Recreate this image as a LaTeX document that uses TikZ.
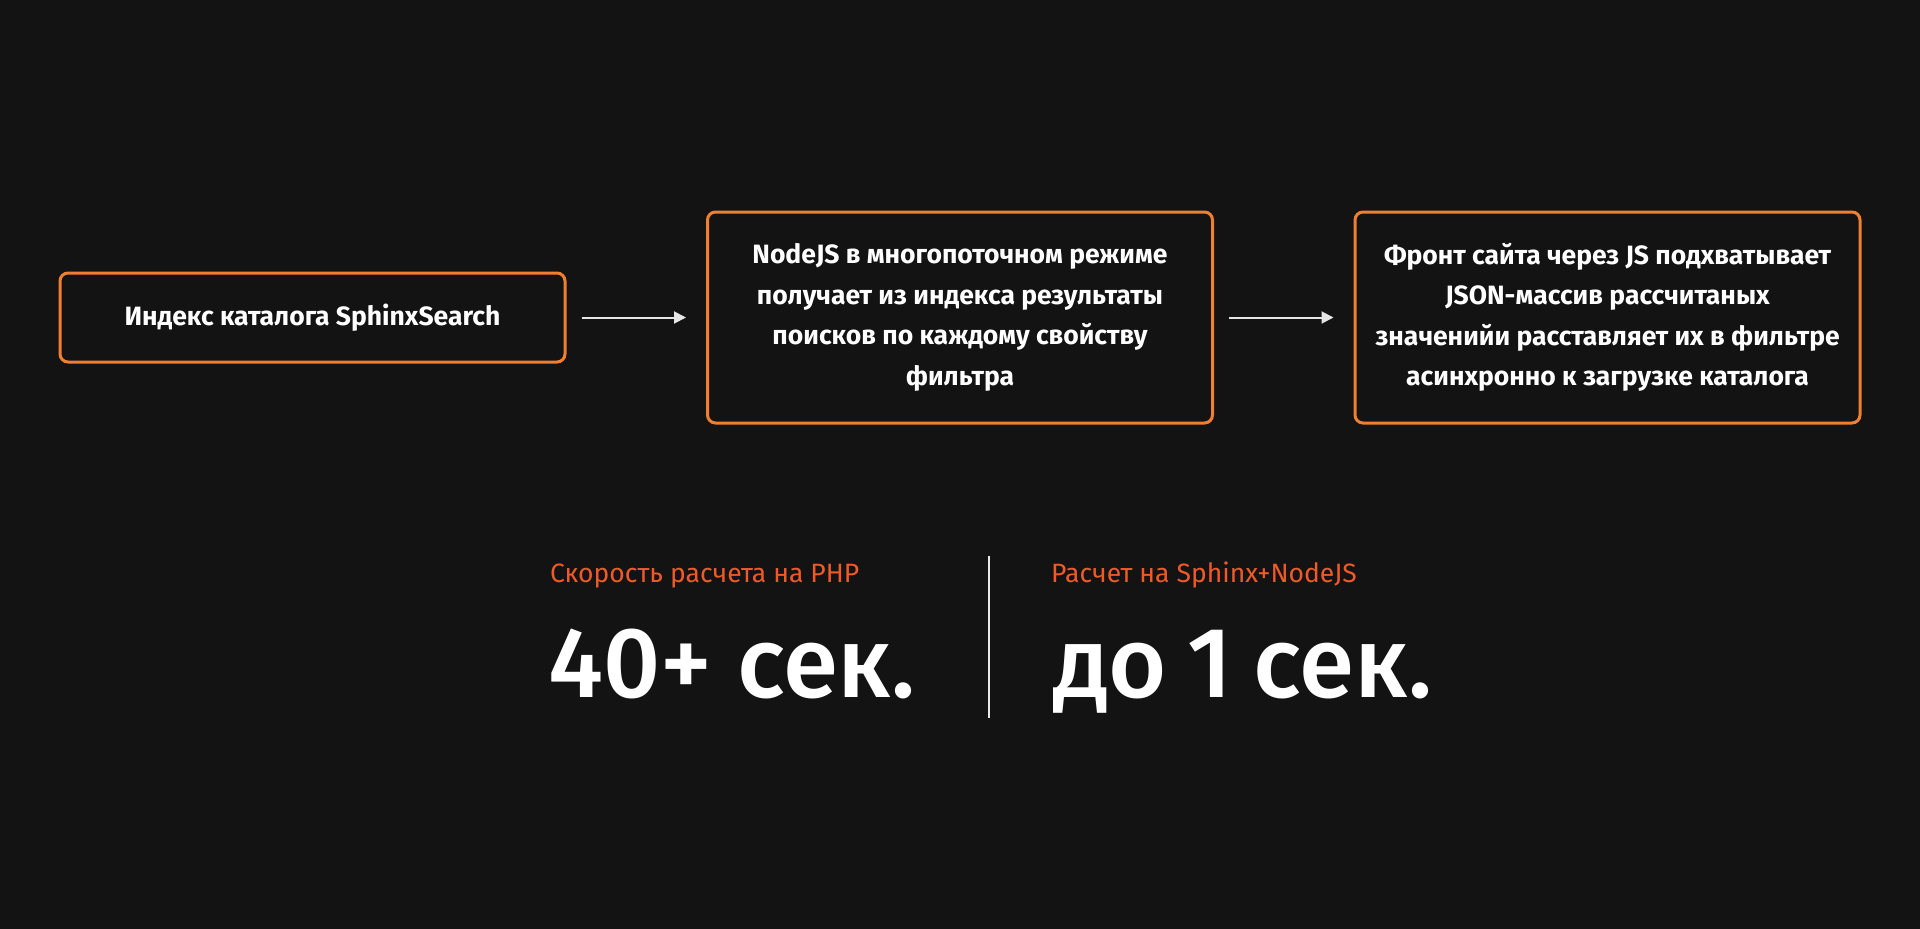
\documentclass[tikz,border=0pt]{standalone}
\usepackage{fontspec}
\setmainfont{Fira Sans}
\newfontfamily\medfont{Fira Sans Medium}
\usetikzlibrary{arrows.meta}
\definecolor{bg}{HTML}{131313}
\definecolor{boxorange}{HTML}{F08030}
\definecolor{txtorange}{HTML}{F05A28}
\definecolor{arrgray}{HTML}{E6E6E6}
\begin{document}
\begin{tikzpicture}[x=1pt,y=-1pt,
  stepbox/.style={draw=boxorange, line width=3pt, rounded corners=8pt, fill=bg,
    text=white, inner sep=0pt, minimum width=505pt, align=center,
    font=\bfseries\fontsize{26.5}{40.5}\selectfont},
  flow/.style={draw=arrgray, line width=2pt, -{Triangle[length=12pt,width=12pt]},
    shorten <=15pt, shorten >=20pt},
  lbl/.style={text=txtorange, inner sep=0pt, anchor=base west,
    font=\fontsize{26.5}{30}\selectfont},
  big/.style={text=white, inner sep=0pt, anchor=base west,
    font=\medfont\fontsize{100}{110}\selectfont},
  divider/.style={draw=arrgray!85, line width=1.5pt}]
\fill[bg] (0,0) rectangle (1920,929);
\useasboundingbox (0,0) rectangle (1920,929);
\node[stepbox, minimum height=89pt] (b1) at (312.5,317.5) {Индекс каталога SphinxSearch};
\node[stepbox, minimum height=211pt] (b2) at (960,317.5) {NodeJS в многопоточном режиме\\получает из индекса результаты\\поисков по каждому свойству\\фильтра};
\node[stepbox, minimum height=211pt] (b3) at (1607.5,317.5) {Фронт сайта через JS подхватывает\\JSON-массив рассчитаных\\значенийи расставляет их в фильтре\\асинхронно к загрузке каталога};
\draw[flow] (b1.east) -- (b2.west);
\draw[flow] (b2.east) -- (b3.west);
\node[lbl] (l1) at (550,582) {Скорость расчета на PHP};
\node[lbl] (l2) at (1051,582) {Расчет на Sphinx+NodeJS};
\node[big] (v1) at (548,697) {40+ сек.};
\node[big] (v2) at (1053,697) {до\hspace{-4pt} 1\hspace{-4pt} сек.};
\coordinate (d1) at (989,556);
\coordinate (d2) at (989,718);
\draw[divider] (d1) -- (d2);
\end{tikzpicture}
\end{document}
